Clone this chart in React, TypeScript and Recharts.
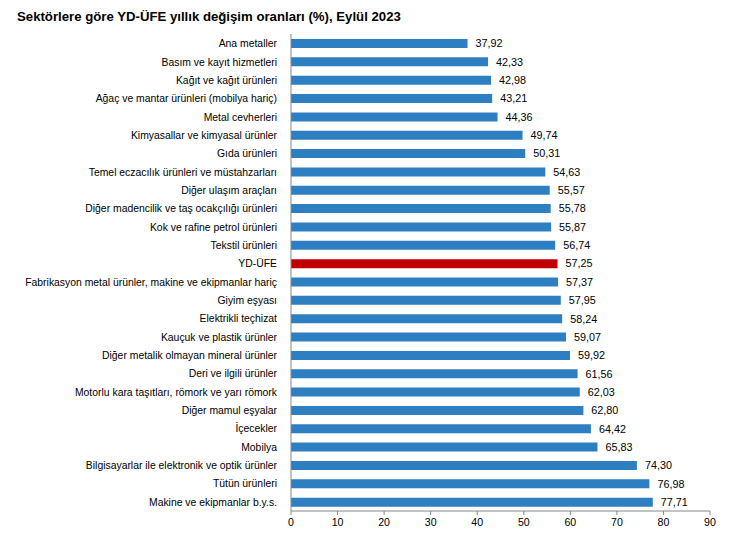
import React from "react";
import { BarChart, Bar, XAxis, YAxis, Cell, LabelList } from "recharts";

const categories: string[] = [
  "Ana metaller",
  "Basım ve kayıt hizmetleri",
  "Kağıt ve kağıt ürünleri",
  "Ağaç ve mantar ürünleri (mobilya hariç)",
  "Metal cevherleri",
  "Kimyasallar ve kimyasal ürünler",
  "Gıda ürünleri",
  "Temel eczacılık ürünleri ve müstahzarları",
  "Diğer ulaşım araçları",
  "Diğer madencilik ve taş ocakçılığı ürünleri",
  "Kok ve rafine petrol ürünleri",
  "Tekstil ürünleri",
  "YD-ÜFE",
  "Fabrikasyon metal ürünler, makine ve ekipmanlar hariç",
  "Giyim eşyası",
  "Elektrikli teçhizat",
  "Kauçuk ve plastik ürünler",
  "Diğer metalik olmayan mineral ürünler",
  "Deri ve ilgili ürünler",
  "Motorlu kara taşıtları, römork ve yarı römork",
  "Diğer mamul eşyalar",
  "İçecekler",
  "Mobilya",
  "Bilgisayarlar ile elektronik ve optik ürünler",
  "Tütün ürünleri",
  "Makine ve ekipmanlar b.y.s.",
];

const values: number[] = [
  37.92, 42.33, 42.98, 43.21, 44.36, 49.74, 50.31, 54.63, 55.57, 55.78, 55.87,
  56.74, 57.25, 57.37, 57.95, 58.24, 59.07, 59.92, 61.56, 62.03, 62.8, 64.42,
  65.83, 74.3, 76.98, 77.71,
];

const xTicks: number[] = [0, 10, 20, 30, 40, 50, 60, 70, 80, 90];
const highlight = "YD-ÜFE";
const title = "Sektörlere göre YD-ÜFE yıllık değişim oranları (%), Eylül 2023";

const data = categories.map((name, i) => ({ name, value: values[i] }));

const FONT = "'Liberation Sans', Arial, sans-serif";

const CategoryTick = (props: any) => {
  const { x, y, payload } = props;
  return (
    <text
      x={x}
      y={y}
      dy={4}
      textAnchor="end"
      fill="#000"
      fontSize={10.4}
      fontFamily={FONT}
    >
      {payload.value}
    </text>
  );
};

export default function App() {
  return (
    <div
      style={{
        position: "fixed",
        left: 0,
        top: 0,
        width: 739,
        height: 539,
        background: "#fff",
        fontFamily: FONT,
      }}
    >
      <div
        style={{
          position: "absolute",
          left: 17,
          top: 9,
          fontSize: 13.2,
          fontWeight: "bold",
          color: "#000",
          whiteSpace: "nowrap",
        }}
      >
        {title}
      </div>
      <BarChart
        width={739}
        height={539}
        data={data}
        layout="vertical"
        margin={{ top: 34, right: 29, bottom: 0, left: 0 }}
        barSize={9}
      >
        <XAxis
          type="number"
          domain={[0, 90]}
          ticks={xTicks}
          interval={0}
          height={28}
          stroke="#868686"
          tickSize={4}
          tickMargin={3}
          tick={{ fill: "#000", fontSize: 10.6, fontFamily: FONT }}
        />
        <YAxis
          type="category"
          dataKey="name"
          width={291}
          interval={0}
          stroke="#868686"
          tickLine={false}
          tickSize={6}
          tickMargin={8}
          tick={<CategoryTick />}
        />
        <Bar dataKey="value" isAnimationActive={false}>
          {data.map((d) => (
            <Cell key={d.name} fill={d.name === highlight ? "#C00000" : "#2E7EC2"} />
          ))}
          <LabelList
            dataKey="value"
            position="right"
            offset={8}
            formatter={(v: any) => Number(v).toFixed(2).replace(".", ",")}
            style={{ fill: "#000", fontSize: 10.8, fontFamily: FONT }}
          />
        </Bar>
      </BarChart>
    </div>
  );
}
